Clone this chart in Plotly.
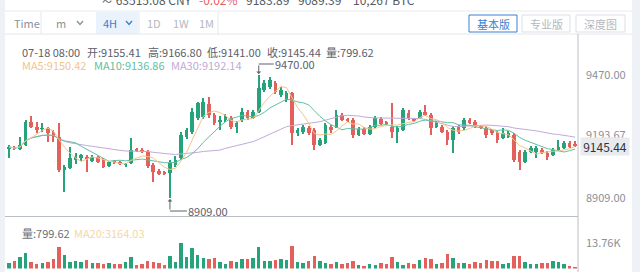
import pandas as pd
import plotly.graph_objects as go

W, H = 640, 272

# 4H candles for BTC, the last one closing 07-18 08:00
opens = [9137, 9142, 9132, 9151, 9256, 9233, 9224, 9228, 9210, 9187,
         9037, 9046, 9082, 9091, 9096, 9078, 9096, 9082, 9055, 9073,
         9069, 9060, 9069, 9128, 9126, 9119, 9060, 9032, 9023, 9023,
         9060, 9091, 9187, 9210, 9274, 9278, 9338, 9288, 9256, 9265,
         9274, 9233, 9265, 9301, 9274, 9301, 9402, 9415, 9434, 9379,
         9356, 9388, 9205, 9210, 9228, 9219, 9151, 9160, 9233, 9233,
         9288, 9265, 9265, 9196, 9224, 9201, 9233, 9269, 9251, 9233,
         9210, 9219, 9297, 9265, 9274, 9301, 9288, 9233, 9233, 9210,
         9174, 9233, 9228, 9265, 9256, 9233, 9228, 9219, 9205, 9183,
         9187, 9196, 9119, 9073, 9119, 9119, 9128, 9114, 9105, 9128,
         9137, 9160, 9155.41]
closes = [9142, 9132, 9151, 9256, 9233, 9219, 9228, 9205, 9187, 9037,
          9050, 9091, 9096, 9105, 9091, 9096, 9073, 9050, 9073, 9071,
          9066, 9064, 9128, 9126, 9119, 9055, 9028, 9023, 9021, 9069,
          9082, 9196, 9219, 9301, 9342, 9347, 9288, 9251, 9265, 9278,
          9233, 9251, 9301, 9274, 9301, 9411, 9434, 9447, 9392, 9402,
          9388, 9205, 9219, 9233, 9205, 9151, 9174, 9242, 9219, 9288,
          9265, 9263, 9196, 9224, 9201, 9233, 9274, 9247, 9249, 9210,
          9228, 9310, 9274, 9263, 9301, 9288, 9228, 9251, 9210, 9174,
          9228, 9210, 9265, 9251, 9233, 9231, 9196, 9205, 9174, 9205,
          9205, 9082, 9073, 9119, 9137, 9137, 9114, 9096, 9128, 9142,
          9160, 9142, 9145.44]
highs = [9151, 9146, 9187, 9265, 9283, 9256, 9251, 9233, 9219, 9251,
         9060, 9142, 9114, 9110, 9105, 9105, 9101, 9091, 9078, 9082,
         9078, 9069, 9183, 9137, 9137, 9128, 9069, 9041, 9032, 9082,
         9101, 9210, 9228, 9319, 9347, 9365, 9370, 9297, 9283, 9292,
         9283, 9260, 9319, 9310, 9310, 9470, 9447, 9461, 9443, 9415,
         9397, 9392, 9228, 9242, 9237, 9228, 9183, 9251, 9242, 9310,
         9297, 9274, 9274, 9233, 9233, 9242, 9283, 9278, 9260, 9342,
         9237, 9319, 9310, 9274, 9310, 9333, 9297, 9260, 9242, 9219,
         9237, 9242, 9274, 9274, 9265, 9242, 9237, 9224, 9215, 9228,
         9215, 9205, 9128, 9128, 9146, 9146, 9137, 9123, 9137, 9174,
         9169, 9169, 9166.80]
lows = [9091, 9128, 9128, 9146, 9228, 9205, 9210, 9164, 9164, 9028,
        8936, 9041, 9064, 9078, 9028, 9073, 9069, 9046, 9050, 9064,
        9060, 9050, 9064, 9119, 9114, 9046, 8982, 9014, 9014, 8909,
        9050, 9082, 9178, 9201, 9265, 9269, 9274, 9242, 9219, 9256,
        9224, 9205, 9256, 9265, 9269, 9297, 9392, 9406, 9383, 9370,
        9347, 9151, 9192, 9201, 9196, 9128, 9146, 9155, 9205, 9228,
        9260, 9256, 9183, 9192, 9196, 9196, 9228, 9242, 9242, 9183,
        9160, 9215, 9265, 9256, 9269, 9283, 9196, 9228, 9205, 9151,
        9114, 9201, 9219, 9247, 9228, 9224, 9183, 9196, 9160, 9178,
        9183, 9073, 9037, 9069, 9114, 9091, 9110, 9082, 9101, 9123,
        9132, 9137, 9141.00]
volumes = [3215, 3790, 5960, 8130, 3760, 2690, 2720, 3250, 4870, 11350,
           7540, 3770, 3800, 3760, 4330, 3230, 2710, 2690, 2720, 2680,
           2700, 3260, 6470, 1640, 2170, 3790, 3770, 2710, 1630, 6500,
           3760, 13760, 6460, 11330, 7030, 5410, 5390, 5420, 3770, 2690,
           3790, 3760, 4880, 5390, 5410, 11870, 4310, 3790, 4850, 4870,
           4840, 11890, 3770, 2710, 3780, 6490, 3790, 3230, 2690, 3770,
           2170, 2710, 3790, 1630, 1620, 2690, 1640, 2710, 2690, 5950,
           3770, 2160, 2710, 2690, 4320, 5410, 4860, 2700, 3230, 8090,
           5930, 3240, 2710, 2690, 3250, 3230, 4330, 4310, 3790, 2170,
           3240, 7010, 6490, 3770, 2690, 2170, 2710, 3240, 3790, 3770,
           2700, 1620, 799.62]

mid_tick = 9193.67           # reference level printed on the price scale
stat_ma = {"MA5": 9150.42, "MA10": 9136.86, "MA30": 9192.14}
vol_ma20 = 3164.03
header_items = ["≈ 63515.08 CNY", "-0.02%", "9183.89", "9089.39", "10,267 BTC"]
periods = ["1D", "1W", "1M"]
versions = ["基本版", "专业版", "深度图"]

GREEN = "#27a37c"
RED = "#e3615c"
FONT = "Noto Sans CJK SC, Roboto, sans-serif"
AX = "#8b9099"


def px(x):
    return x / W


def py(y):
    return 1 - y / H


n = len(closes)
idx = list(range(n))
colors = [GREEN if c >= o else RED for o, c in zip(opens, closes)]
body_lo = [min(o, c) for o, c in zip(opens, closes)]
body_h = [max(abs(c - o), 3.5) for o, c in zip(opens, closes)]
wick_h = [h - l for h, l in zip(highs, lows)]

s = pd.Series(closes)
mas = {k: s.rolling(k, min_periods=1).mean() for k in (5, 10, 30)}
ma_colors = {5: "#f2c68a", 10: "#5fc0a3", 30: "#c2aad9"}

fig = go.Figure()

# MA lines behind candles
for k in (30, 10, 5):
    fig.add_trace(go.Scatter(x=idx, y=mas[k], mode="lines",
                             line=dict(color=ma_colors[k], width=1),
                             hoverinfo="skip", xaxis="x", yaxis="y"))

# wicks and bodies
fig.add_trace(go.Bar(x=idx, y=wick_h, base=lows, width=0.2,
                     marker=dict(color=colors, line_width=0),
                     xaxis="x", yaxis="y"))
fig.add_trace(go.Bar(x=idx, y=body_h, base=body_lo, width=0.66,
                     marker=dict(color=colors, line_width=0),
                     xaxis="x", yaxis="y"))

# volume
fig.add_trace(go.Bar(x=idx, y=volumes, width=0.62,
                     marker=dict(color=colors, line_width=0),
                     xaxis="x2", yaxis="y2"))

# price scale geometry
p_top, p_bot = 36, 216
price_per_px = (max(highs) - min(lows)) / (198 - 75)
y_hi = max(highs) + (75 - p_top) * price_per_px
y_lo = max(highs) - (p_bot - 75) * price_per_px
v_top_px, v_base_px = 218, 268.5
vmax = max(volumes)
v_range_top = vmax * (v_base_px - v_top_px) / (v_base_px - 243)

x_dom = [px(6), px(578)]
fig.update_layout(
    width=W, height=H, margin=dict(l=0, r=0, t=0, b=0),
    paper_bgcolor="white", plot_bgcolor="white",
    showlegend=False, barmode="overlay", bargap=0,
    font=dict(family=FONT, size=11, color="#555a63"),
    xaxis=dict(domain=x_dom, range=[-0.54, n - 0.48], visible=False,
               anchor="y", fixedrange=True),
    xaxis2=dict(domain=x_dom, matches="x", visible=False, anchor="y2"),
    yaxis=dict(domain=[py(p_bot), py(p_top)], range=[y_lo, y_hi],
               side="right", showgrid=False, zeroline=False, showline=False,
               ticks="", tickvals=[max(highs), mid_tick, min(lows)],
               ticktext=[f"{v:.2f}" for v in (max(highs), mid_tick, min(lows))],
               tickfont=dict(size=11, color=AX), ticklabelstandoff=7,
               anchor="x"),
    yaxis2=dict(domain=[py(v_base_px), py(v_top_px)], range=[0, v_range_top],
                side="right", showgrid=False, zeroline=False, showline=False,
                ticks="", tickvals=[vmax],
                ticktext=[f"{vmax / 1000:.2f}K"],
                tickfont=dict(size=11, color=AX), ticklabelstandoff=7,
                anchor="x2"),
)

shapes = []
ann = []


def rect(x0, y0, x1, y1, fill, line=None):
    shapes.append(dict(type="rect", xref="paper", yref="paper",
                       x0=px(x0), x1=px(x1), y0=py(y1), y1=py(y0),
                       fillcolor=fill, line=dict(width=1 if line else 0,
                                                 color=line or fill),
                       layer="below"))


def hline(x0, x1, y, color, width=1):
    shapes.append(dict(type="line", xref="paper", yref="paper",
                       x0=px(x0), x1=px(x1), y0=py(y), y1=py(y),
                       line=dict(color=color, width=width)))


def vline(x, y0, y1, color, width=1):
    shapes.append(dict(type="line", xref="paper", yref="paper",
                       x0=px(x), x1=px(x), y0=py(y0), y1=py(y1),
                       line=dict(color=color, width=width)))


def text(x, y, s, color="#555a63", size=11, anchor="left"):
    ann.append(dict(xref="paper", yref="paper", x=px(x), y=py(y), text=s,
                    showarrow=False, xanchor=anchor, yanchor="middle",
                    borderpad=0,
                    font=dict(size=size, color=color, family=FONT)))


def chevron(xc, yc, color):
    shapes.append(dict(type="path", xref="paper", yref="paper",
                       path=f"M {px(xc - 3)},{py(yc - 2)} L {px(xc)},{py(yc + 1.5)} "
                            f"L {px(xc + 3)},{py(yc - 2)}",
                       line=dict(color=color, width=1.3)))


# side strips
rect(0, 0, 5, H, "#eef1f6")
rect(632, 0, W, H, "#eef1f6")

# header row (mostly scrolled off)
hx = [100, 198, 245, 297, 352]
for x, s_ in zip(hx, header_items):
    text(x, -1, s_, RED if s_.startswith("-") else "#555a63", 12)
hline(5, 632, 11, "#e8eaee")

# toolbar
rect(96, 12, 138, 34, "#eaf2fc")
text(13, 23, "Time", "#8b9099")
vline(41, 12, 34, "#e6e8ec")
text(55, 23, "m", "#8b9099")
chevron(80, 23, "#8b9099")
text(102, 23, "4H", "#3c7fd0")
chevron(129, 23, "#3c7fd0")
vline(139, 12, 34, "#e6e8ec")
for x, s_ in zip([146, 172, 198], periods):
    text(x, 23, s_, "#b3b8c0")
vline(218, 12, 34, "#e6e8ec")
for (x0, x1), s_, active in zip([(469, 517), (522, 570), (576, 625)], versions,
                                [True, False, False]):
    rect(x0, 15, x1, 32, "white", "#3c7fd0" if active else "#dcdfe4")
    text((x0 + x1) / 2, 23.5, s_, "#3c7fd0" if active else "#b3b8c0", 11, "center")
hline(5, 632, 34, "#e3e6eb")

# panel frame
vline(578, 34, H, "#b9bec6")
hline(5, 578, 216.5, "#b9bec6")

# candle info line
last = n - 1
info = [(21, "07-18 08:00"), (86, f"开:{opens[last]:.2f}"),
        (147, f"高:{highs[last]:.2f}"), (206, f"低:{lows[last]:.2f}"),
        (266, f"收:{closes[last]:.2f}"), (325, f"量:{volumes[last]:.2f}")]
for x, s_ in info:
    text(x, 51.5, s_, "#5b6069")
for x, (k, v) in zip([21, 93, 170], stat_ma.items()):
    text(x, 65, f"{k}:{v:.2f}", ma_colors[int(k[2:])])

# volume info line
text(21, 233, f"量:{volumes[last]:.2f}", "#6b7079")
text(73, 233, f"MA20:{vol_ma20:.2f}", "#f3d7a6")

# last price tag
ann.append(dict(xref="paper", yref="y", x=px(605), y=closes[last],
                text=f"{closes[last]:.2f}", showarrow=False,
                xanchor="center", yanchor="middle", bgcolor="#e8eaee",
                width=46, height=15, borderpad=1,
                font=dict(size=12, color="#2f343b", family=FONT)))

# highest / lowest markers
hi_i = max(idx, key=lambda i: highs[i])
lo_i = min(idx, key=lambda i: lows[i])
MK = "#5b6069"
for i, v, dy in [(hi_i, highs[hi_i], 11), (lo_i, lows[lo_i], -13)]:
    ann.append(dict(x=i, y=v, xref="x", yref="y", text="", showarrow=True,
                    ax=0, ay=-dy, arrowhead=1, arrowsize=0.8, arrowwidth=1,
                    arrowcolor=MK, standoff=1))
    shapes.append(dict(type="line", xref="x", yref="y",
                       xsizemode="pixel", ysizemode="pixel",
                       xanchor=i, yanchor=v, x0=0, x1=15 if dy > 0 else 17,
                       y0=dy, y1=dy, line=dict(color=MK, width=1)))
    ann.append(dict(x=i, y=v, xref="x", yref="y", text=f"{v:.2f}",
                    showarrow=False, xanchor="left", yanchor="middle",
                    xshift=15 if dy > 0 else 17, yshift=dy, borderpad=0,
                    font=dict(size=11, color=MK, family=FONT)))

fig.update_layout(shapes=shapes, annotations=ann)
fig.write_html("out.html")
